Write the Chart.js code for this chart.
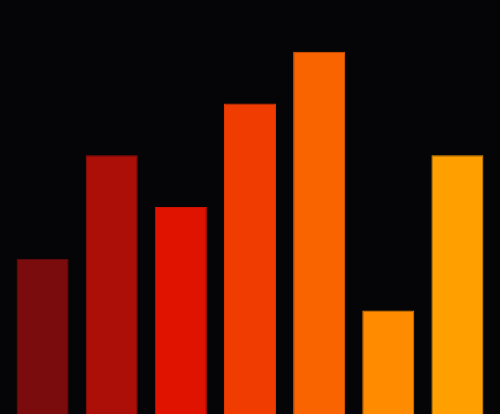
<!DOCTYPE html>
<html>
<head>
<meta charset="utf-8">
<script src="https://cdn.jsdelivr.net/npm/chart.js@4/dist/chart.umd.min.js"></script>
<style>
    html, body { margin: 0; padding: 0; background: #050507; }
    #wrap { width: 500px; height: 414px; position: relative; }
</style>
</head>
<body>
<div id="wrap"><canvas id="barChart"></canvas></div>
<script>
const labels = ['A', 'B', 'C', 'D', 'E', 'F', 'G'];
const values = [3, 5, 4, 6, 7, 2, 5];
const barColors = ['#7a0c0e', '#ab0f08', '#e01300', '#f03c00', '#fa6400', '#ff8c00', '#ffa000'];
const edgeColors = ['#6e0b0d', '#9c0e08', '#cc1200', '#dc3700', '#e65c00', '#eb8100', '#eb9300'];

const ctx = document.getElementById('barChart');
new Chart(ctx, {
    type: 'bar',
    data: {
        labels: labels,
        datasets: [{
            data: values,
            backgroundColor: barColors,
            borderColor: edgeColors,
            borderWidth: 1,
            borderSkipped: 'bottom',
            barPercentage: 0.752,
            categoryPercentage: 1
        }]
    },
    options: {
        responsive: true,
        maintainAspectRatio: false,
        animation: false,
        layout: { padding: { left: 8, right: 8, top: 0, bottom: 0 } },
        plugins: { legend: { display: false }, tooltip: { enabled: false } },
        scales: {
            x: { display: false },
            y: { display: false, min: 0, max: 8 }
        }
    }
});
</script>
</body>
</html>
